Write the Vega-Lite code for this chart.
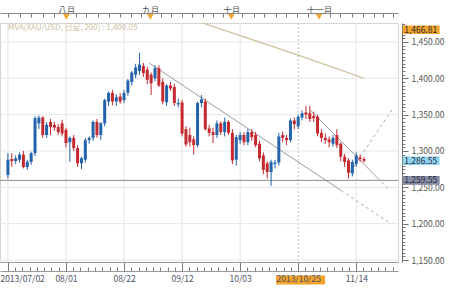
{
  "$schema": "https://vega.github.io/schema/vega-lite/v6.json",
  "width": 398,
  "height": 239,
  "autosize": {"type": "none"},
  "padding": {"left": 0, "top": 23, "right": 52, "bottom": 27},
  "background": "#ffffff",
  "config": {
    "view": {"stroke": "#d4d4d4", "strokeWidth": 1},
    "font": "Noto Sans CJK JP",
    "axis": {"labelFont": "Noto Sans CJK JP", "title": null, "grid": false}
  },
  "datasets": {
    "candles": [
      {"i":0,"o":1267,"h":1297,"l":1262,"c":1288},
      {"i":1,"o":1289,"h":1297,"l":1278,"c":1286},
      {"i":2,"o":1286,"h":1294,"l":1282,"c":1290},
      {"i":3,"o":1288,"h":1298,"l":1284,"c":1295},
      {"i":4,"o":1295,"h":1300,"l":1276,"c":1278},
      {"i":5,"o":1278,"h":1288,"l":1274,"c":1285},
      {"i":6,"o":1285,"h":1299,"l":1281,"c":1297},
      {"i":7,"o":1297,"h":1348,"l":1293,"c":1345},
      {"i":8,"o":1338,"h":1349,"l":1330,"c":1346},
      {"i":9,"o":1346,"h":1348,"l":1318,"c":1322},
      {"i":10,"o":1322,"h":1340,"l":1318,"c":1336},
      {"i":11,"o":1340,"h":1344,"l":1322,"c":1333},
      {"i":12,"o":1336,"h":1340,"l":1328,"c":1332},
      {"i":13,"o":1333,"h":1337,"l":1322,"c":1326},
      {"i":14,"o":1338,"h":1343,"l":1320,"c":1324},
      {"i":15,"o":1329,"h":1332,"l":1305,"c":1311},
      {"i":16,"o":1312,"h":1320,"l":1285,"c":1318},
      {"i":17,"o":1318,"h":1322,"l":1300,"c":1304},
      {"i":18,"o":1304,"h":1308,"l":1278,"c":1283},
      {"i":19,"o":1283,"h":1292,"l":1275,"c":1290},
      {"i":20,"o":1288,"h":1318,"l":1284,"c":1315},
      {"i":21,"o":1315,"h":1320,"l":1310,"c":1318},
      {"i":22,"o":1318,"h":1342,"l":1314,"c":1340},
      {"i":23,"o":1340,"h":1344,"l":1318,"c":1322},
      {"i":24,"o":1322,"h":1340,"l":1315,"c":1338},
      {"i":25,"o":1338,"h":1372,"l":1334,"c":1370},
      {"i":26,"o":1368,"h":1382,"l":1362,"c":1380},
      {"i":27,"o":1380,"h":1384,"l":1363,"c":1368},
      {"i":28,"o":1368,"h":1378,"l":1362,"c":1374},
      {"i":29,"o":1375,"h":1380,"l":1365,"c":1368},
      {"i":30,"o":1370,"h":1384,"l":1366,"c":1380},
      {"i":31,"o":1380,"h":1399,"l":1376,"c":1397},
      {"i":32,"o":1395,"h":1410,"l":1390,"c":1408},
      {"i":33,"o":1405,"h":1420,"l":1400,"c":1415},
      {"i":34,"o":1410,"h":1435,"l":1405,"c":1419},
      {"i":35,"o":1417,"h":1421,"l":1402,"c":1407},
      {"i":36,"o":1412,"h":1416,"l":1392,"c":1398},
      {"i":37,"o":1405,"h":1408,"l":1377,"c":1393},
      {"i":38,"o":1400,"h":1418,"l":1396,"c":1414},
      {"i":39,"o":1414,"h":1418,"l":1388,"c":1390},
      {"i":40,"o":1395,"h":1400,"l":1364,"c":1368},
      {"i":41,"o":1367,"h":1392,"l":1362,"c":1390},
      {"i":42,"o":1390,"h":1395,"l":1383,"c":1386},
      {"i":43,"o":1388,"h":1392,"l":1362,"c":1366},
      {"i":44,"o":1364,"h":1372,"l":1360,"c":1366},
      {"i":45,"o":1367,"h":1370,"l":1320,"c":1324},
      {"i":46,"o":1330,"h":1334,"l":1306,"c":1309},
      {"i":47,"o":1322,"h":1332,"l":1306,"c":1312},
      {"i":48,"o":1316,"h":1320,"l":1295,"c":1308},
      {"i":49,"o":1308,"h":1368,"l":1305,"c":1366},
      {"i":50,"o":1366,"h":1377,"l":1360,"c":1371},
      {"i":51,"o":1368,"h":1372,"l":1328,"c":1330},
      {"i":52,"o":1331,"h":1336,"l":1320,"c":1325},
      {"i":53,"o":1326,"h":1332,"l":1311,"c":1322},
      {"i":54,"o":1322,"h":1342,"l":1318,"c":1338},
      {"i":55,"o":1338,"h":1341,"l":1322,"c":1326},
      {"i":56,"o":1326,"h":1346,"l":1320,"c":1340},
      {"i":57,"o":1340,"h":1342,"l":1322,"c":1325},
      {"i":58,"o":1325,"h":1330,"l":1282,"c":1287},
      {"i":59,"o":1288,"h":1322,"l":1280,"c":1319},
      {"i":60,"o":1315,"h":1326,"l":1310,"c":1322},
      {"i":61,"o":1322,"h":1326,"l":1308,"c":1312},
      {"i":62,"o":1312,"h":1330,"l":1308,"c":1326},
      {"i":63,"o":1326,"h":1330,"l":1314,"c":1319},
      {"i":64,"o":1322,"h":1326,"l":1305,"c":1308},
      {"i":65,"o":1310,"h":1314,"l":1286,"c":1290},
      {"i":66,"o":1294,"h":1298,"l":1268,"c":1274},
      {"i":67,"o":1283,"h":1286,"l":1262,"c":1271},
      {"i":68,"o":1271,"h":1288,"l":1252,"c":1285},
      {"i":69,"o":1282,"h":1288,"l":1276,"c":1284},
      {"i":70,"o":1284,"h":1325,"l":1280,"c":1320},
      {"i":71,"o":1322,"h":1327,"l":1312,"c":1318},
      {"i":72,"o":1318,"h":1322,"l":1308,"c":1315},
      {"i":73,"o":1315,"h":1345,"l":1312,"c":1342},
      {"i":74,"o":1342,"h":1346,"l":1330,"c":1337},
      {"i":75,"o":1334,"h":1350,"l":1330,"c":1347},
      {"i":76,"o":1346,"h":1356,"l":1342,"c":1352},
      {"i":77,"o":1353,"h":1362,"l":1344,"c":1350},
      {"i":78,"o":1352,"h":1362,"l":1340,"c":1344},
      {"i":79,"o":1348,"h":1354,"l":1340,"c":1345},
      {"i":80,"o":1347,"h":1350,"l":1320,"c":1324},
      {"i":81,"o":1325,"h":1330,"l":1312,"c":1318},
      {"i":82,"o":1318,"h":1324,"l":1310,"c":1315},
      {"i":83,"o":1316,"h":1320,"l":1305,"c":1312},
      {"i":84,"o":1310,"h":1322,"l":1306,"c":1318},
      {"i":85,"o":1322,"h":1330,"l":1304,"c":1308},
      {"i":86,"o":1310,"h":1312,"l":1286,"c":1292},
      {"i":87,"o":1292,"h":1296,"l":1278,"c":1285},
      {"i":88,"o":1287,"h":1290,"l":1262,"c":1270},
      {"i":89,"o":1269,"h":1288,"l":1265,"c":1285},
      {"i":90,"o":1282,"h":1298,"l":1278,"c":1294},
      {"i":91,"o":1291,"h":1295,"l":1285,"c":1289},
      {"i":92,"o":1289,"h":1292,"l":1284,"c":1286.55}
    ],
    "ma": [
      {"i":45,"p":1485.7},
      {"i":60,"p":1458.8},
      {"i":75,"p":1431.9},
      {"i":92,"p":1400.05}
    ],
    "trend": [
      {"line":"A","i":36.5,"p":1421.1},
      {"line":"A","i":86.1,"p":1245.6},
      {"line":"C","i":78.1,"p":1356.4},
      {"line":"C","i":95.5,"p":1262.9},
      {"line":"D","i":88.4,"p":1271.2},
      {"line":"D","i":91.0,"p":1291.7}
    ],
    "projection": [
      {"line":"A","i":86.1,"p":1245.6},
      {"line":"A","i":98.7,"p":1200.9},
      {"line":"C","i":95.5,"p":1262.9},
      {"line":"C","i":98.7,"p":1245.7},
      {"line":"D","i":91.0,"p":1291.7},
      {"line":"D","i":99.2,"p":1356.5}
    ],
    "vgrid": [{"g":0},{"g":15},{"g":30},{"g":45},{"g":60},{"g":90}],
    "hgrid": [{"g":1150},{"g":1200},{"g":1250},{"g":1300},{"g":1350},{"g":1400},{"g":1450}],
    "months": [{"m":15.1},{"m":36.8},{"m":57.7},{"m":80.4}],
    "tags": [
      {"kind":"cursor","v":1466.81},
      {"kind":"last","v":1286.55},
      {"kind":"level","v":1259.55}
    ]
  },
  "layer": [
    {
      "data": {"name": "vgrid"},
      "mark": {"type": "rule", "color": "#e6e6e6", "strokeWidth": 1},
      "encoding": {
        "x": {
          "field": "g", "type": "quantitative",
          "scale": {"domain": [-0.756, 99.5], "nice": false, "zero": false},
          "axis": {
            "orient": "bottom", "zindex": 1,
            "values": [0, 15, 30, 45, 60, 75, 90],
            "labelExpr": "datum.value==0?'2013/07/02':datum.value==15?'08/01':datum.value==30?'08/22':datum.value==45?'09/12':datum.value==60?'10/03':datum.value==75?'2013/10/25':'11/14'",
            "tickSize": 9, "tickColor": "#7a7a7a", "domainColor": "#9a9a9a",
            "labelFontSize": 8.5, "labelColor": "#4d5466", "labelPadding": 3,
            "labelFlush": false, "labelOverlap": false,
            "labelAlign": {"condition": {"test": "datum.value==0", "value": "left"}, "value": "center"},
            "labelOffset": {"condition": {"test": "datum.value==0", "value": -8}, "value": 0}
          }
        }
      }
    },
    {
      "data": {"values": [{}]},
      "mark": {"type": "rule", "color": "#bdbdbd", "strokeDash": [2, 2]},
      "encoding": {"x": {"datum": 75, "type": "quantitative", "axis": null}}
    },
    {
      "data": {"name": "hgrid"},
      "mark": {"type": "rule", "color": "#e6e6e6", "strokeWidth": 1},
      "encoding": {
        "y": {
          "field": "g", "type": "quantitative",
          "scale": {"domain": [1147.25, 1476.1], "nice": false, "zero": false},
          "axis": {
            "orient": "right", "offset": 4,
            "values": [1150, 1200, 1250, 1300, 1350, 1400, 1450],
            "format": ",.2f",
            "tickSize": 6, "tickColor": "#6a6a6a", "domainColor": "#6a6a6a",
            "labelFontSize": 8.5, "labelColor": "#555555", "labelPadding": 3,
            "labelFlush": false, "labelOverlap": false
          }
        }
      }
    },
    {
      "data": {"values": [{}]},
      "mark": {"type": "rule", "color": "#8c8c8c", "strokeWidth": 1},
      "encoding": {"y": {"datum": 1259.55, "type": "quantitative", "axis": null}}
    },
    {
      "data": {"name": "ma"},
      "mark": {"type": "line", "color": "#cdbf99", "strokeWidth": 1.2, "clip": true},
      "encoding": {
        "x": {"field": "i", "type": "quantitative", "axis": null},
        "y": {"field": "p", "type": "quantitative", "axis": null}
      }
    },
    {
      "data": {"name": "trend"},
      "mark": {"type": "line", "color": "#9c9c9c", "strokeWidth": 1},
      "encoding": {
        "x": {"field": "i", "type": "quantitative", "axis": null},
        "y": {"field": "p", "type": "quantitative", "axis": null},
        "detail": {"field": "line"}
      }
    },
    {
      "data": {"name": "projection"},
      "mark": {"type": "line", "color": "#a8a8a8", "strokeWidth": 1, "strokeDash": [3, 3]},
      "encoding": {
        "x": {"field": "i", "type": "quantitative", "axis": null},
        "y": {"field": "p", "type": "quantitative", "axis": null},
        "detail": {"field": "line"}
      }
    },
    {
      "data": {"name": "candles"},
      "mark": {"type": "rule", "strokeWidth": 1},
      "encoding": {
        "x": {
          "field": "i", "type": "quantitative",
          "axis": {
            "orient": "bottom", "offset": 9,
            "values": [0,1.875,3.75,5.625,7.5,9.375,11.25,13.125,15,16.875,18.75,20.625,22.5,24.375,26.25,28.125,30,31.875,33.75,35.625,37.5,39.375,41.25,43.125,45,46.875,48.75,50.625,52.5,54.375,56.25,58.125,60,61.875,63.75,65.625,67.5,69.375,71.25,73.125,75,76.875,78.75,80.625,82.5,84.375,86.25,88.125,90,91.875,93.75,95.625,97.5,99.375],
            "tickSize": -4, "tickColor": "#7a7a7a", "domainColor": "#9a9a9a",
            "labels": false
          }
        },
        "y": {
          "field": "l", "type": "quantitative",
          "axis": {
            "orient": "right", "offset": 4,
            "values": [1150,1155,1160,1165,1170,1175,1180,1185,1190,1195,1200,1205,1210,1215,1220,1225,1230,1235,1240,1245,1250,1255,1260,1265,1270,1275,1280,1285,1290,1295,1300,1305,1310,1315,1320,1325,1330,1335,1340,1345,1350,1355,1360,1365,1370,1375,1380,1385,1390,1395,1400,1405,1410,1415,1420,1425,1430,1435,1440,1445,1450,1455,1460,1465,1470,1475],
            "tickSize": 3, "tickColor": "#7a7a7a", "domain": false, "labels": false
          }
        },
        "y2": {"field": "h"},
        "color": {"condition": {"test": "datum.c >= datum.o", "value": "#2462aa"}, "value": "#c52a30"}
      }
    },
    {
      "data": {"name": "candles"},
      "mark": {"type": "bar", "size": 3},
      "encoding": {
        "x": {
          "field": "i", "type": "quantitative",
          "axis": {
            "orient": "top", "offset": 10,
            "values": [0,3,6,9.1,11.8,15.1,17.6,20.2,23.2,26.2,29,31.7,34.5,36.8,39.5,42.1,45.1,47.6,50.4,52.9,55.7,57.7,60.5,63.5,66.2,69.3,71.8,74.6,77.6,80.4,83.1,85.9,88.9,91.7,94.5,97,99.5],
            "labelExpr": "datum.value==15.1?'八月':datum.value==36.8?'九月':datum.value==57.7?'十月':datum.value==80.4?'十一月':''",
            "tickSize": -4, "tickColor": "#7a7a7a", "domainColor": "#8a8a8a",
            "labelFontSize": 8.5, "labelColor": "#555555", "labelPadding": 3,
            "labelFlush": false, "labelOverlap": false
          }
        },
        "y": {"field": "o", "type": "quantitative", "axis": null},
        "y2": {"field": "c"},
        "color": {"condition": {"test": "datum.c >= datum.o", "value": "#2462aa"}, "value": "#c52a30"}
      }
    },
    {
      "data": {"name": "months"},
      "mark": {"type": "point", "shape": "triangle-down", "filled": true, "size": 45, "color": "#f0a631", "opacity": 1},
      "encoding": {
        "x": {"field": "m", "type": "quantitative", "axis": null},
        "y": {"datum": 1484.4, "type": "quantitative", "axis": null}
      }
    },
    {
      "data": {"name": "tags"},
      "mark": {"type": "point", "shape": "M0,-0.2H1.7V0.2H0Z", "filled": true, "size": 1892, "opacity": 1},
      "encoding": {
        "x": {"datum": 102.0, "type": "quantitative", "axis": null},
        "y": {"field": "v", "type": "quantitative", "axis": null},
        "color": {
          "field": "kind", "type": "nominal", "legend": null,
          "scale": {"domain": ["cursor", "last", "level"], "range": ["#f4a42a", "#8fd6f2", "#858ca6"]}
        }
      }
    },
    {
      "data": {"name": "tags"},
      "mark": {"type": "text", "align": "left", "baseline": "middle", "dx": 1.5, "fontSize": 8.5, "color": "#2e2e3a"},
      "encoding": {
        "x": {"datum": 102.0, "type": "quantitative", "axis": null},
        "y": {"field": "v", "type": "quantitative", "axis": null},
        "text": {"field": "v", "type": "quantitative", "format": ",.2f"}
      }
    },
    {
      "data": {"values": [{}]},
      "mark": {"type": "point", "shape": "M-1,-0.18H1V0.18H-1Z", "filled": true, "size": 2401, "color": "#f4a42a", "opacity": 1},
      "encoding": {
        "x": {"datum": 75.6, "type": "quantitative", "axis": null},
        "y": {"datum": 1122.5, "type": "quantitative", "axis": null}
      }
    },
    {
      "data": {"values": [{"t": "MVA(XAU/USD, 日足, 200) : 1,400.05"}]},
      "mark": {"type": "text", "align": "left", "baseline": "middle", "fontSize": 8, "color": "#cbbf9e"},
      "encoding": {
        "x": {"datum": 0, "type": "quantitative", "axis": null},
        "y": {"datum": 1469.5, "type": "quantitative", "axis": null},
        "text": {"field": "t"}
      }
    }
  ],
  "resolve": {"axis": {"x": "independent", "y": "independent"}}
}
